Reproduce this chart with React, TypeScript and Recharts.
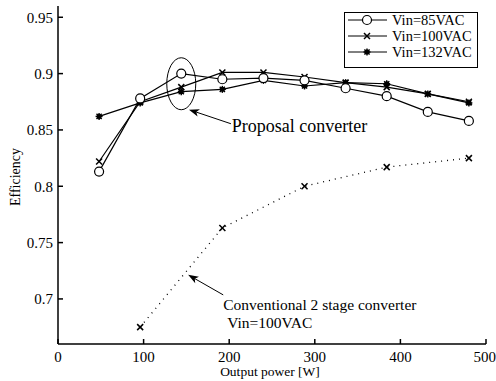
import React from "react";
import {
  LineChart,
  Line,
  XAxis,
  YAxis,
  Legend,
  ReferenceDot,
  ReferenceLine,
} from "recharts";

// output power [W] for the measured points
const power = [48, 96, 144, 192, 240, 288, 336, 384, 432, 480];
const eff85 = [0.813, 0.878, 0.9, 0.895, 0.896, 0.894, 0.887, 0.88, 0.866, 0.858];
const eff100 = [0.822, 0.875, 0.888, 0.901, 0.901, 0.897, 0.892, 0.888, 0.882, 0.875];
const eff132 = [0.862, 0.874, 0.884, 0.886, 0.894, 0.889, 0.892, 0.891, 0.882, 0.874];

// conventional two-stage converter, Vin=100VAC
const convPower = [96, 192, 288, 384, 480];
const effConv = [0.675, 0.763, 0.8, 0.817, 0.825];

const xTicks = [0, 100, 200, 300, 400, 500];
const yTicks = [0.7, 0.75, 0.8, 0.85, 0.9, 0.95];
const yTickLabels: Record<string, string> = {
  "0.7": "0.7",
  "0.75": "0.75",
  "0.8": "0.8",
  "0.85": "0.85",
  "0.9": "0.9",
  "0.95": "0.95",
};

const FONT = '"Liberation Serif", "Times New Roman", serif';

const toRows = (xs: number[], ys: number[]) => xs.map((p, i) => ({ p, eff: ys[i] }));

type Shape = "circle" | "cross" | "star";

function Marker({ cx, cy, shape }: { cx: number; cy: number; shape: Shape }) {
  if (cx == null || cy == null) return null;
  if (shape === "circle") {
    return <circle cx={cx} cy={cy} r={4.5} fill="#fff" stroke="#000" strokeWidth={1.2} />;
  }
  if (shape === "cross") {
    const s = 3;
    return (
      <g stroke="#000" strokeWidth={1.5}>
        <line x1={cx - s} y1={cy - s} x2={cx + s} y2={cy + s} />
        <line x1={cx - s} y1={cy + s} x2={cx + s} y2={cy - s} />
      </g>
    );
  }
  const s = 3.5;
  return (
    <g stroke="#000" strokeWidth={1.4}>
      <line x1={cx - s} y1={cy} x2={cx + s} y2={cy} />
      <line x1={cx} y1={cy - s} x2={cx} y2={cy + s} />
      <line x1={cx - 2.6} y1={cy - 2.6} x2={cx + 2.6} y2={cy + 2.6} />
      <line x1={cx - 2.6} y1={cy + 2.6} x2={cx + 2.6} y2={cy - 2.6} />
      <circle cx={cx} cy={cy} r={1.8} fill="#000" />
    </g>
  );
}

const dotOf = (shape: Shape) => (props: any) => (
  <Marker key={`m-${shape}-${props.index}`} cx={props.cx} cy={props.cy} shape={shape} />
);

// arrow drawn from segment[0] (tip) to segment[1] (tail)
function Arrow(props: any) {
  const { x1, y1, x2, y2 } = props;
  const ang = Math.atan2(y1 - y2, x1 - x2);
  const len = 11;
  const w = 0.35;
  const p1 = [x1 - len * Math.cos(ang - w), y1 - len * Math.sin(ang - w)];
  const p2 = [x1 - len * Math.cos(ang + w), y1 - len * Math.sin(ang + w)];
  const base = [x1 - len * 0.7 * Math.cos(ang), y1 - len * 0.7 * Math.sin(ang)];
  return (
    <g>
      <line x1={x2} y1={y2} x2={base[0]} y2={base[1]} stroke="#000" strokeWidth={1} />
      <polygon
        points={`${x1},${y1} ${p1[0]},${p1[1]} ${base[0]},${base[1]} ${p2[0]},${p2[1]}`}
        fill="#000"
      />
    </g>
  );
}

function LegendBox() {
  const rows: { label: string; shape: Shape }[] = [
    { label: "Vin=85VAC", shape: "circle" },
    { label: "Vin=100VAC", shape: "cross" },
    { label: "Vin=132VAC", shape: "star" },
  ];
  return (
    <svg width={134} height={56} style={{ display: "block" }}>
      <rect x={0.5} y={0.5} width={133} height={55} fill="#fff" stroke="#000" />
      {rows.map((r, i) => {
        const y = 8 + i * 16;
        return (
          <g key={r.label}>
            <line x1={4} y1={y} x2={43} y2={y} stroke="#000" strokeWidth={1} />
            <Marker cx={23} cy={y} shape={r.shape} />
            <text
              x={48}
              y={y + 5}
              fontFamily={FONT}
              fontSize={14.5}
              fill="#000"
            >
              {r.label}
            </text>
          </g>
        );
      })}
    </svg>
  );
}

export default function App() {
  const tickStyle = { fontSize: 15, fill: "#000", fontFamily: FONT };
  return (
    <div style={{ position: "absolute", left: 0, top: 0, background: "#fff" }}>
      <LineChart
        width={496}
        height={381}
        margin={{ top: 6, right: 10, bottom: 0, left: 8 }}
        style={{ fontFamily: FONT }}
      >
        <XAxis
          dataKey="p"
          type="number"
          domain={[0, 500]}
          ticks={xTicks}
          height={37}
          stroke="#000"
          strokeWidth={1.5}
          tickSize={-5}
          tickMargin={12}
          tick={tickStyle}
          allowDataOverflow
          label={{
            content: ({ viewBox }: any) => (
              <text
                x={viewBox.x + viewBox.width / 2 - 2}
                y={viewBox.y + 32}
                textAnchor="middle"
                fontFamily={FONT}
                fontSize={13.5}
                fill="#000"
              >
                Output power [W]
              </text>
            ),
          }}
        />
        <XAxis
          xAxisId="top"
          orientation="top"
          type="number"
          domain={[0, 500]}
          ticks={xTicks}
          height={0}
          stroke="#000"
          tickSize={-5}
          tick={false}
        />
        <YAxis
          type="number"
          domain={[0.66, 0.96]}
          ticks={yTicks}
          width={50}
          stroke="#000"
          strokeWidth={1.5}
          tickSize={-5}
          tickMargin={10}
          tick={tickStyle}
          tickFormatter={(v: number) => yTickLabels[String(v)] ?? String(v)}
          allowDataOverflow
          label={{
            content: ({ viewBox }: any) => {
              const x = viewBox.x + 7;
              const y = viewBox.y + viewBox.height / 2 + 2;
              return (
                <text
                  x={x}
                  y={y}
                  transform={`rotate(-90 ${x} ${y})`}
                  textAnchor="middle"
                  dominantBaseline="central"
                  fontFamily={FONT}
                  fontSize={14}
                  fill="#000"
                >
                  Efficiency
                </text>
              );
            },
          }}
        />
        <YAxis
          yAxisId="right"
          orientation="right"
          type="number"
          domain={[0.66, 0.96]}
          ticks={yTicks}
          width={0}
          stroke="#000"
          tickSize={-5}
          tick={false}
        />

        <Line
          data={toRows(convPower, effConv)}
          dataKey="eff"
          stroke="#000"
          strokeWidth={1.3}
          strokeDasharray="1 5"
          dot={dotOf("cross")}
          isAnimationActive={false}
          legendType="none"
        />
        <Line
          data={toRows(power, eff132)}
          dataKey="eff"
          name="Vin=132VAC"
          stroke="#000"
          strokeWidth={1.2}
          dot={dotOf("star")}
          isAnimationActive={false}
        />
        <Line
          data={toRows(power, eff100)}
          dataKey="eff"
          name="Vin=100VAC"
          stroke="#000"
          strokeWidth={1.2}
          dot={dotOf("cross")}
          isAnimationActive={false}
        />
        <Line
          data={toRows(power, eff85)}
          dataKey="eff"
          name="Vin=85VAC"
          stroke="#000"
          strokeWidth={1.2}
          dot={dotOf("circle")}
          isAnimationActive={false}
        />

        {/* ellipse marking the peak region */}
        <ReferenceDot
          x={144}
          y={0.891}
          r={0}
          shape={(p: any) => (
            <ellipse cx={p.cx} cy={p.cy} rx={14.5} ry={26} fill="none" stroke="#000" strokeWidth={1} />
          )}
        />
        <ReferenceLine
          segment={[
            { x: 153, y: 0.868 },
            { x: 202, y: 0.8555 },
          ]}
          shape={Arrow}
        />
        <ReferenceDot
          x={203}
          y={0.848}
          r={0}
          shape={(p: any) => (
            <text x={p.cx} y={p.cy} fontFamily={FONT} fontSize={18} fill="#000">
              Proposal converter
            </text>
          )}
        />
        <ReferenceLine
          segment={[
            { x: 152, y: 0.7214 },
            { x: 193, y: 0.7036 },
          ]}
          shape={Arrow}
        />
        <ReferenceDot
          x={193}
          y={0.69}
          r={0}
          shape={(p: any) => (
            <text fontFamily={FONT} fontSize={15.5} fill="#000">
              <tspan x={p.cx} y={p.cy}>
                Conventional 2 stage converter
              </tspan>
              <tspan x={p.cx + 4} y={p.cy + 18}>
                Vin=100VAC
              </tspan>
            </text>
          )}
        />

        <Legend
          layout="horizontal"
          verticalAlign="middle"
          align="center"
          content={() => <LegendBox />}
          wrapperStyle={{ left: 344, top: 12, width: "auto", height: "auto" }}
        />
      </LineChart>
    </div>
  );
}
